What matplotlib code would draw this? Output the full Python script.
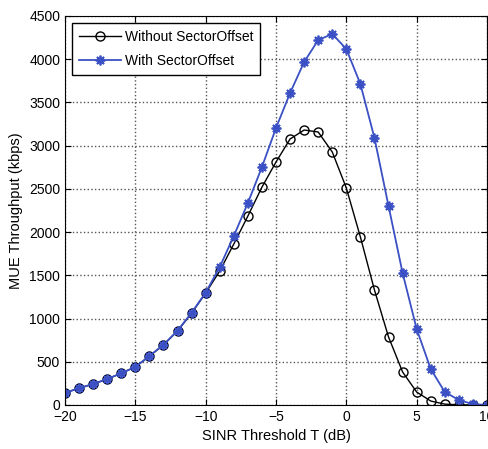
import matplotlib
matplotlib.use('Agg')
import matplotlib.pyplot as plt
import numpy as np

plt.rcParams["font.family"] = ["Liberation Sans", "DejaVu Sans"]

# SINR threshold (dB)
sinr = np.arange(-20, 11)

# MUE throughput (kbps)
without_offset = [140, 195, 243, 300, 368, 440, 565, 695, 856, 1062, 1295,
                  1550, 1862, 2186, 2520, 2811, 3077, 3181, 3158, 2927, 2510,
                  1943, 1330, 787, 382, 150, 46, 10, 2, 0, 0]
with_offset = [140, 195, 243, 300, 368, 440, 567, 697, 860, 1068, 1300,
               1596, 1955, 2337, 2753, 3204, 3609, 3968, 4222, 4292, 4118,
               3713, 3089, 2302, 1527, 879, 416, 150, 58, 10, 0]

labels = ['Without SectorOffset', 'With SectorOffset']

fig = plt.figure(figsize=(4.88, 4.49), dpi=100)
ax = fig.add_axes([65 / 488, 44 / 449, 422 / 488, 389 / 449])

ax.plot(sinr, without_offset, color='black', lw=1.0, marker='o', ms=6.5,
        mfc='none', mec='black', mew=1.0, label=labels[0])
ax.plot(sinr, with_offset, color='#3a50c4', lw=1.3, marker=(8, 2, 0), ms=7,
        mec='#3a50c4', mew=1.3, label=labels[1])

ax.set_xlim(-20, 10)
ax.set_ylim(0, 4500)
ax.set_xticks(np.arange(-20, 11, 5))
ax.set_yticks(np.arange(0, 4501, 500))
ax.grid(True, linestyle=':', color='#555555', linewidth=1.0)
ax.tick_params(direction='in', top=True, right=True, labelsize=10, length=4)

ax.set_xlabel('SINR Threshold T (dB)', fontsize=10.5)
ax.set_ylabel('MUE Throughput (kbps)', fontsize=10.5)

leg = ax.legend(loc='upper left', fontsize=10, fancybox=False,
                framealpha=1, edgecolor='black', handlelength=3.0,
                handletextpad=0.3, borderaxespad=0.5, borderpad=0.5,
                labelspacing=0.75)
leg.get_frame().set_linewidth(1.0)

fig.savefig('out.png', dpi=100)
